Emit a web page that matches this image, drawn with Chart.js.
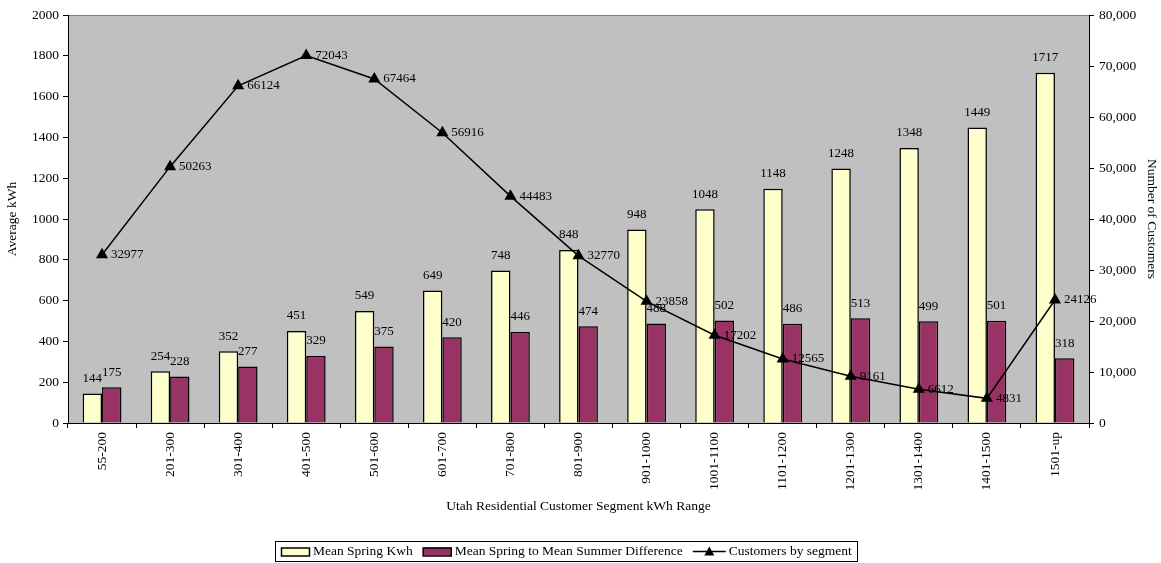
<!DOCTYPE html>
<html><head><meta charset="utf-8">
<script src="https://cdn.jsdelivr.net/npm/chart.js@4.4.1/dist/chart.umd.min.js"></script>
<style>html,body{margin:0;padding:0;background:#fff;}#wrap{width:1161px;height:563px;}</style>
</head><body><div id="wrap"><canvas id="c" width="1161" height="563"></canvas></div>
<script>
const categories = ['55-200','201-300','301-400','401-500','501-600','601-700','701-800','801-900','901-1000','1001-1100','1101-1200','1201-1300','1301-1400','1401-1500','1501-up'];
const meanSpring = [144,254,352,451,549,649,748,848,948,1048,1148,1248,1348,1449,1717];
const springSummerDiff = [175,228,277,329,375,420,446,474,488,502,486,513,499,501,318];
const customers = [32977,50263,66124,72043,67464,56916,44483,32770,23858,17202,12565,9161,6612,4831,24126];
const seriesNames = ['Mean Spring Kwh','Mean Spring to Mean Summer Difference','Customers by segment'];
const xTitle = 'Utah Residential Customer Segment kWh Range';
const leftTitle = 'Average kWh';
const rightTitle = 'Number of Customers';

const FONT = '"Liberation Serif", "Times New Roman", serif';
Chart.defaults.font.family = FONT;
Chart.defaults.font.size = 13.5;
Chart.defaults.color = '#000';

const bgPlugin = {
  id: 'plotBg',
  beforeDraw(chart) {
    const {ctx, chartArea: a} = chart;
    ctx.save();
    ctx.fillStyle = '#C0C0C0';
    ctx.fillRect(a.left, a.top, a.right - a.left, a.bottom - a.top);
    ctx.strokeStyle = '#808080';
    ctx.lineWidth = 1;
    ctx.beginPath();
    ctx.moveTo(a.left, a.top + 0.5);
    ctx.lineTo(a.right, a.top + 0.5);
    ctx.stroke();
    ctx.restore();
  }
};

const labelPlugin = {
  id: 'valueLabels',
  afterDraw(chart) {
    const ctx = chart.ctx;
    ctx.save();
    ctx.font = '13px ' + FONT;
    ctx.fillStyle = '#000';
    chart.data.datasets.forEach((ds, i) => {
      const meta = chart.getDatasetMeta(i);
      meta.data.forEach((el, j) => {
        const v = ds.data[j];
        if (ds.type === 'line') {
          ctx.textAlign = 'left';
          ctx.textBaseline = 'middle';
          ctx.fillText(String(v), el.x + 9, el.y);
        } else {
          ctx.textAlign = 'center';
          ctx.textBaseline = 'middle';
          ctx.fillText(String(v), el.x, el.y - 15);
        }
      });
    });
    ctx.restore();
  }
};

const legendPlugin = {
  id: 'boxLegend',
  afterDraw(chart) {
    const ctx = chart.ctx;
    ctx.save();
    ctx.font = '13.5px ' + FONT;
    const ds = chart.data.datasets;
    const sampleW = [29, 29, 33];
    const gapAfterSample = 3, gapBetween = 10;
    let total = 0;
    ds.forEach((d, i) => {
      total += sampleW[i] + gapAfterSample + ctx.measureText(d.label).width;
      if (i < ds.length - 1) total += gapBetween;
    });
    const padL = 6, padR = 5;
    const cx = 566;
    const boxL = Math.round(cx - (total + padL + padR) / 2);
    const boxR = Math.round(boxL + total + padL + padR);
    const top = 541, bottom = 561, midY = 551.5;
    ctx.strokeStyle = '#000';
    ctx.lineWidth = 1;
    ctx.strokeRect(boxL + 0.5, top + 0.5, boxR - boxL, bottom - top);
    let x = boxL + padL;
    ds.forEach((d, i) => {
      if (d.type === 'line') {
        ctx.beginPath();
        ctx.moveTo(x, midY);
        ctx.lineTo(x + sampleW[i], midY);
        ctx.lineWidth = 1.5;
        ctx.strokeStyle = '#000';
        ctx.stroke();
        const tx = x + sampleW[i] / 2;
        ctx.beginPath();
        ctx.moveTo(tx, midY - 5);
        ctx.lineTo(tx + 5, midY + 4);
        ctx.lineTo(tx - 5, midY + 4);
        ctx.closePath();
        ctx.fillStyle = '#000';
        ctx.fill();
      } else {
        ctx.fillStyle = d.backgroundColor;
        ctx.fillRect(x, midY - 4, sampleW[i], 8);
        ctx.lineWidth = 1.5;
        ctx.strokeStyle = '#000';
        ctx.strokeRect(x + 0.5, midY - 4 + 0.5, sampleW[i] - 1, 8);
      }
      x += sampleW[i] + gapAfterSample;
      ctx.fillStyle = '#000';
      ctx.textAlign = 'left';
      ctx.textBaseline = 'middle';
      ctx.fillText(d.label, x, midY);
      x += ctx.measureText(d.label).width + gapBetween;
    });
    ctx.restore();
  }
};

new Chart(document.getElementById('c'), {
  type: 'bar',
  data: {
    labels: categories,
    datasets: [
      { type: 'bar', label: seriesNames[0], data: meanSpring, yAxisID: 'y',
        backgroundColor: '#FFFFCC', borderColor: '#000', borderWidth: 1.5,
        categoryPercentage: 0.57, barPercentage: 1.0, order: 1 },
      { type: 'bar', label: seriesNames[1], data: springSummerDiff, yAxisID: 'y',
        backgroundColor: '#993366', borderColor: '#000', borderWidth: 1.5,
        categoryPercentage: 0.57, barPercentage: 1.0, order: 1 },
      { type: 'line', label: seriesNames[2], data: customers, yAxisID: 'y2',
        borderColor: '#000', borderWidth: 1.5, backgroundColor: '#000',
        pointStyle: 'triangle', pointRadius: 5.5, pointBackgroundColor: '#000',
        pointBorderColor: '#000', tension: 0, order: 0 }
    ]
  },
  options: {
    responsive: false,
    animation: false,
    devicePixelRatio: 1,
    layout: { padding: { top: 15, bottom: 41, left: 0, right: 0 } },
    plugins: { legend: { display: false }, tooltip: { enabled: false } },
    scales: {
      x: {
        grid: { display: true, drawOnChartArea: false, drawTicks: true, tickLength: 5, color: '#000', offset: true },
        border: { display: true, color: '#000', width: 1 },
        ticks: { autoSkip: false, maxRotation: 90, minRotation: 90, padding: 4, font: { size: 13.5 } },
        title: { display: true, text: xTitle, font: { size: 13.5 }, padding: { top: 0, bottom: 7 } },
        afterFit(s) { s.height = 99; }
      },
      y: {
        position: 'left', min: 0, max: 2000,
        grid: { display: true, drawOnChartArea: false, drawTicks: true, tickLength: 5, color: '#000' },
        border: { display: true, color: '#000', width: 1 },
        ticks: { stepSize: 200, padding: 4, callback: v => String(v) },
        title: { display: true, text: leftTitle, font: { size: 13.5 }, padding: { top: 4, bottom: 0 } },
        afterFit(s) { s.width = 68; }
      },
      y2: {
        position: 'right', min: 0, max: 80000,
        grid: { display: true, drawOnChartArea: false, drawTicks: true, tickLength: 5, color: '#000' },
        border: { display: true, color: '#000', width: 1 },
        ticks: { stepSize: 10000, padding: 5, callback: v => Number(v).toLocaleString('en-US') },
        title: { display: true, text: rightTitle, font: { size: 13.5 }, padding: { top: 1, bottom: 0 } },
        afterFit(s) { s.width = 72; }
      }
    }
  },
  plugins: [bgPlugin, labelPlugin, legendPlugin]
});
</script>
</body></html>
